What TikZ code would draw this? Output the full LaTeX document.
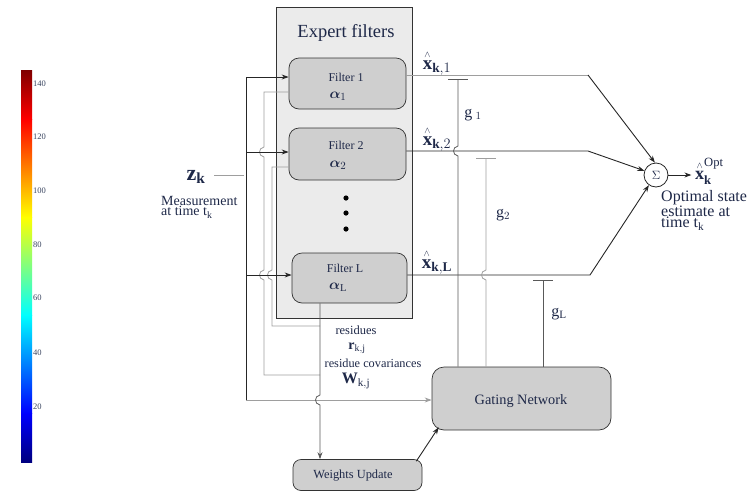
\documentclass[tikz,border=0pt]{standalone}
\usepackage{amsmath}
\usepackage{fontspec}
\setmainfont{Liberation Serif}
\usetikzlibrary{arrows.meta,calc}
\definecolor{txt}{HTML}{1E2848}
\definecolor{cbl}{HTML}{3A4560}
\definecolor{jdb}{rgb}{0,0,0.5}
\definecolor{jb}{rgb}{0,0,1}
\definecolor{jc}{rgb}{0,1,1}
\definecolor{jy}{rgb}{1,1,0}
\definecolor{jr}{rgb}{1,0,0}
\definecolor{jdr}{rgb}{0.5,0,0}
\newcommand{\hopv}[1]{-- ($#1+(0,-5)$) .. controls +(-6,1) and +(-6,-1) .. ($#1+(0,5)$)}
\newcommand{\xhat}{\overset{\scriptscriptstyle\wedge}{\mathbf{x}}}
\begin{document}
\begin{tikzpicture}[x=1pt,y=-1pt,
  font=\fontsize{10}{11}\selectfont, text=txt,
  box/.style={draw=black!80, fill=black!19, line width=0.7pt, inner sep=0pt},
  gline/.style={draw=black!38, line width=0.8pt},
  mline/.style={draw=black!65, line width=0.8pt},
  kline/.style={draw=black!85, line width=0.9pt},
  tip/.style={-{Stealth[length=7pt,width=5pt]}},
  cblab/.style={text=cbl, font=\fontsize{8.5}{9}\selectfont, anchor=west, inner sep=0pt},
]
\useasboundingbox (0,0) rectangle (753,491);
% colour bar
\shade[bottom color=jdb, top color=jb] (21,462) rectangle (32,413);
\shade[bottom color=jb, top color=jc] (21,413.5) rectangle (32,315);
\shade[bottom color=jc, top color=jy] (21,315.5) rectangle (32,217);
\shade[bottom color=jy, top color=jr] (21,217.5) rectangle (32,119);
\shade[bottom color=jr, top color=jdr] (21,119.5) rectangle (32,70);
\node[cblab] (c140) at (33,84) {140};
\node[cblab] (c120) at (33,137) {120};
\node[cblab] (c100) at (33,191) {100};
\node[cblab] (c80) at (33,245) {80};
\node[cblab] (c60) at (33,298) {60};
\node[cblab] (c40) at (33,353) {40};
\node[cblab] (c20) at (33,407) {20};
% expert filters box
\node[draw=black!80, fill=black!8, line width=0.8pt, minimum width=136pt, minimum height=311pt, inner sep=0pt] (ef) at (344,162.5) {};
\node (eft) at (346,33) {\fontsize{18.5}{19}\selectfont Expert filters};
% filters
\node[box, rounded corners=10pt, minimum width=117pt, minimum height=51pt] (f1) at (347.5,83.5) {};
\node[box, rounded corners=10pt, minimum width=117pt, minimum height=52pt] (f2) at (347.5,154) {};
\node[box, rounded corners=10pt, minimum width=115pt, minimum height=50pt] (fL) at (349.5,278) {};
\node[font=\fontsize{12}{12}\selectfont] (f1t) at (346,77) {Filter 1};
\node[font=\fontsize{15}{15}\selectfont] (f1a) at (338,96) {$\boldsymbol{\alpha}_1$};
\node[font=\fontsize{12}{12}\selectfont] (f2t) at (346,145) {Filter 2};
\node[font=\fontsize{15}{15}\selectfont] (f2a) at (338,165) {$\boldsymbol{\alpha}_2$};
\node[font=\fontsize{12}{12}\selectfont] (fLt) at (345,268) {Filter L};
\node[font=\fontsize{15}{15}\selectfont] (fLa) at (338,287) {$\boldsymbol{\alpha}_{\mathrm{L}}$};
\fill[black] (346,198) circle (2.6) (346,213) circle (2.6) (346,229) circle (2.6);
% gating and weights
\node[box, rounded corners=12pt, minimum width=179pt, minimum height=63pt] (gate) at (521.5,398.5) {};
\node[font=\fontsize{14.3}{15}\selectfont] (gatet) at (521,401) {Gating Network};
\node[box, rounded corners=8pt, minimum width=129pt, minimum height=31pt] (wu) at (357.5,475) {};
\node[font=\fontsize{12.4}{13}\selectfont] (wut) at (353,476) {Weights Update};
% sum
\node[draw=black!85, fill=white, line width=0.8pt, circle, minimum size=24pt, inner sep=0pt] (sum) at (656,175) {\fontsize{12}{12}\selectfont$\Sigma$};
% input side
\coordinate (b1) at (246,77);
\coordinate (b2) at (246,152);
\coordinate (bL) at (246,275);
\coordinate (mb) at (246,400);
\coordinate (zs) at (214,175);
\node[font=\fontsize{22}{22}\selectfont] (zk) at (196,177) {$\mathbf{z}_{\mathbf{k}}$};
\node[align=left, anchor=north west, inner sep=0pt, font=\fontsize{14}{10.5}\selectfont] (meas) at (161,196) {Measurement\\at time t$_{\mathrm{k}}$};
\draw[gline] (zs) -- ($(b1|-zs)+(-2,0)$);
\draw[kline] (b1) -- (mb);
\draw[kline,tip] (b1) -- (b1 -| f1.west);
% residue lines
\coordinate (r1) at (264,92);
\coordinate (r2) at (272,167);
\coordinate (rb1) at (320,375);
\coordinate (rb2) at (320,326);
\draw[gline] (f1.west |- r1) -- (r1) \hopv{(r1|-b2)} \hopv{(r1|-bL)} -- (r1 |- rb1) -- (rb1);
\draw[gline] (f2.west |- r2) -- (r2) \hopv{(r2|-bL)} -- (r2 |- rb2) -- (rb2);
\draw[kline,tip] (b2) -- (b2 -| f2.west);
\draw[kline,tip] (bL) -- (bL -| fL.west);
\draw[gline,tip] (mb) -- (mb -| gate.west);
\draw[mline,tip] (fL.south -| rb1) \hopv{(rb1|-mb)} -- (rb1 |- wu.north);
\draw[kline,tip] ($(wu.north east)+(-6,2)$) -- ($(gate.south west)+(7,-3)$);
\node[font=\fontsize{12.5}{13}\selectfont] (res) at (356,330) {residues};
\node[font=\fontsize{14}{14}\selectfont] (rkj) at (357,348) {$\mathbf{r}_{\mathrm{k,j}}$};
\node[font=\fontsize{12.3}{13}\selectfont] (rescov) at (373,363) {residue covariances};
\node[font=\fontsize{16}{16}\selectfont] (wkj) at (356,381) {$\mathbf{W}_{\mathrm{k,j}}$};
% outputs
\coordinate (o1) at (588,75);
\coordinate (o2) at (588,151);
\coordinate (oL) at (590,275);
\draw[gline] (f1.east |- o1) -- (o1);
\draw[kline,tip] (o1) -- (sum.95);
\draw[kline,tip] (f2.east |- o2) -- (o2) -- (sum.160);
\draw[kline,tip] (fL.east |- oL) -- (oL) -- (sum.235);
\draw[kline,tip] (sum.east) -- ++(23,0) coordinate (oo);
\node[font=\fontsize{19}{19}\selectfont] (xh1) at (437,63) {$\xhat_{\mathbf{k},1}$};
\node[font=\fontsize{19}{19}\selectfont] (xh2) at (437,139) {$\xhat_{\mathbf{k},2}$};
\node[font=\fontsize{19}{19}\selectfont] (xhL) at (437,262) {$\xhat_{\mathbf{k},\mathbf{L}}$};
\node[font=\fontsize{18}{18}\selectfont, anchor=west, inner sep=1pt] (xo) at (694,171) {$\xhat_{\mathbf{k}}^{\mathrm{Opt}}$};
\node[align=left, anchor=north west, inner sep=0pt, font=\fontsize{16}{11.5}\selectfont] (opt) at (661,190) {Optimal state\\estimate at\\time t$_{\mathrm{k}}$};
% gating weights
\coordinate (g1) at (458,79);
\coordinate (g2) at (486,158);
\coordinate (gL) at (543,280);
\draw[mline,{Bar[width=20pt]}-] (g1) \hopv{(g1|-o2)} -- (g1 |- gate.north);
\draw[gline,{Bar[width=20pt]}-] (g2) \hopv{(g2|-oL)} -- (g2 |- gate.north);
\draw[mline,{Bar[width=20pt]}-] (gL) -- (gL |- gate.north);
\node[font=\fontsize{16}{16}\selectfont] (g1l) at (473,115) {$\mathrm{g}_{\;1}$};
\node[font=\fontsize{16}{16}\selectfont] (g2l) at (503,215) {$\mathrm{g}_{2}$};
\node[font=\fontsize{16}{16}\selectfont] (gLl) at (559,314) {$\mathrm{g}_{\mathrm{L}}$};
\end{tikzpicture}
\end{document}
